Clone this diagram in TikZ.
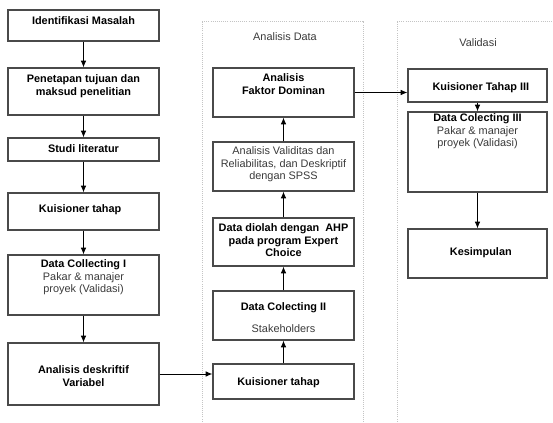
\documentclass[tikz,border=0pt]{standalone}
\usepackage{fontspec}
\setmainfont{Liberation Sans}
\usetikzlibrary{arrows.meta,positioning}
\definecolor{boxgray}{HTML}{4A4A4A}
\definecolor{txtgray}{HTML}{3A3A3A}
\definecolor{panelgray}{HTML}{C4C4C4}
\newcommand\stagefont{\fontsize{9.3}{10.8}\selectfont}
\tikzset{stage/.style={draw=boxgray,line width=1.1pt,inner sep=0pt},
  leftcol/.style={stage,minimum width=4.53cm},
  midcol/.style={stage,minimum width=4.23cm},
  rightcol/.style={stage,minimum width=4.17cm},
  label/.style={inner sep=0pt,align=center,font=\stagefont\bfseries},
  note/.style={inner sep=0pt,align=center,font=\stagefont,text=txtgray},
  flow/.style={-{Latex[length=2mm,width=1.7mm]},line width=0.8pt},
  panel/.style={draw=panelgray,densely dotted,line width=0.8pt}}

\begin{document}
\begin{tikzpicture}[x=0.03cm,y=-0.03cm]
\useasboundingbox (0,0) rectangle (553,423);
\draw[panel] (202,430) |- (363,21) -- (363,430);
\draw[panel] (397,430) |- (560,21);
\node[note] (datatitle) at (285,37) {Analisis Data};
\node[note] (validtitle) at (478,43) {Validasi};

\node[leftcol,minimum height=0.93cm] (masalah) at (83.5,25.5) {};
\node[leftcol,minimum height=1.41cm] (tujuan) at (83.5,91.5) {};
\node[leftcol,minimum height=0.69cm] (studi) at (83.5,149.5) {};
\node[leftcol,minimum height=1.11cm] (kuis1) at (83.5,211.5) {};
\node[leftcol,minimum height=1.80cm] (dc1) at (83.5,285) {};
\node[leftcol,minimum height=1.86cm] (desk) at (83.5,374) {};

\node[midcol,minimum height=1.47cm] (faktor) at (283.5,92.5) {};
\node[midcol,minimum height=1.47cm] (valid) at (283.5,166.5) {};
\node[midcol,minimum height=1.44cm] (ahp) at (283.5,242) {};
\node[midcol,minimum height=1.47cm] (dc2) at (283.5,315.5) {};
\node[midcol,minimum height=1.05cm] (kuis2) at (283.5,381.5) {};

\node[rightcol,minimum height=0.99cm] (kuis3) at (477.5,85.5) {};
\node[rightcol,minimum height=2.40cm] (dc3) at (477.5,152) {};
\node[rightcol,minimum height=1.47cm] (simpul) at (477.5,253.5) {};

\node[label,below=0.21cm of masalah.north] (masalah-t) {Identifikasi Masalah};
\node[label,below=0.21cm of tujuan.north] (tujuan-t) {Penetapan tujuan dan\\maksud penelitian};
\node[label,below=0.21cm of studi.north] (studi-t) {Studi literatur};
\node[label,below=0.36cm of kuis1.north,xshift=-0.1cm] (kuis1-t) {Kuisioner tahap};
\node[label,below=0.15cm of dc1.north] (dc1-t) {Data Collecting I\\\mdseries\color{txtgray}Pakar \& manajer\\\mdseries\color{txtgray}proyek (Validasi)};
\node[label,below=0.69cm of desk.north] (desk-t) {Analisis deskriftif\\Variabel};

\node[label,below=0.18cm of faktor.north] (faktor-t) {Analisis\\Faktor Dominan};
\node[note,below=0.15cm of valid.north] (valid-t) {Analisis Validitas dan\\Reliabilitas, dan Deskriptif\\dengan SPSS};
\node[label,below=0.18cm of ahp.north] (ahp-t) {Data diolah dengan\ \ AHP\\pada program Expert\\Choice};
\node[label,below=0.36cm of dc2.north] (dc2-t) {Data Colecting II\\[8pt]\mdseries\color{txtgray}Stakeholders};
\node[label,below=0.42cm of kuis2.north,xshift=-0.15cm] (kuis2-t) {Kuisioner tahap};

\node[label,below=0.42cm of kuis3.north,xshift=0.1cm] (kuis3-t) {Kuisioner Tahap III};
\node[label,below=0.06cm of dc3.north] (dc3-t) {Data Colecting III\\\mdseries\color{txtgray}Pakar \& manajer\\\mdseries\color{txtgray}proyek (Validasi)};
\node[label,below=0.57cm of simpul.north,xshift=0.1cm] (simpul-t) {Kesimpulan};

\foreach \a/\b in {masalah/tujuan,tujuan/studi,studi/kuis1,kuis1/dc1,dc1/desk,
  kuis2/dc2,dc2/ahp,ahp/valid,valid/faktor,kuis3/dc3,dc3/simpul}
  \draw[flow] (\a) -- (\b);
\draw[flow] (faktor.east) -- (faktor.east -| kuis3.west);
\draw[flow] (desk.east) -- (desk.east -| kuis2.west);
\end{tikzpicture}
\end{document}
